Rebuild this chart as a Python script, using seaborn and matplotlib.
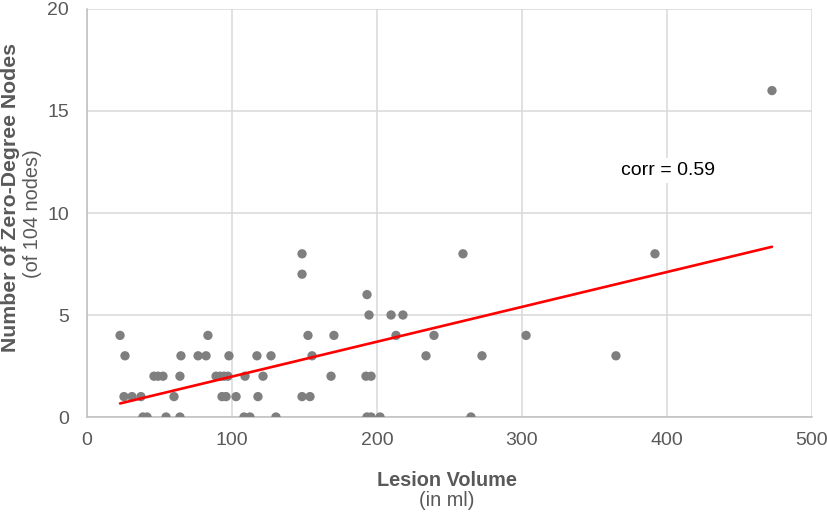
import numpy as np
import pandas as pd
import matplotlib
matplotlib.use("Agg")
import matplotlib.pyplot as plt
import seaborn as sns

# Data (lesion volume in ml, zero-degree node count)
vol_y0 = [38.6, 41.4, 54.5, 64.1, 108.3, 112.4, 130.3, 193.1, 195.9, 202.1, 264.8]
vol_y1 = [25.5, 31.0, 37.2, 60.0, 93.1, 95.9, 102.8, 117.9, 148.3, 153.8]
vol_y2 = [46.2, 49.0, 52.4, 64.1, 89.0, 91.7, 94.5, 97.2, 109.0, 121.4, 168.3, 192.4, 195.9]
vol_y3 = [26.2, 64.8, 76.6, 82.1, 97.9, 117.2, 126.9, 155.2, 233.8, 272.4, 364.8]
vol_y4 = [22.8, 83.4, 152.4, 170.3, 213.1, 239.3, 302.8]
vol_y5 = [194.5, 209.7, 217.9]
vol_y6 = [193.1]
vol_y7 = [148.3]
vol_y8 = [148.3, 259.3, 391.7]
vol_y16 = [472.4]

groups = {0: vol_y0, 1: vol_y1, 2: vol_y2, 3: vol_y3, 4: vol_y4, 5: vol_y5,
          6: vol_y6, 7: vol_y7, 8: vol_y8, 16: vol_y16}
volume = []
nodes = []
for k, v in groups.items():
    volume += v
    nodes += [k] * len(v)
df = pd.DataFrame({"volume": volume, "nodes": nodes})

x_ticks = [0, 100, 200, 300, 400, 500]
y_ticks = [0, 5, 10, 15, 20]
corr_label = "corr = 0.59"

sns.set_theme(style="white")
plt.rcParams["font.family"] = ["Liberation Sans", "DejaVu Sans"]

fig = plt.figure(figsize=(8.28, 5.14), dpi=100)
ax = fig.add_axes([87 / 828, 1 - 417 / 514, (812 - 87) / 828, (417 - 9) / 514])

sns.scatterplot(data=df, x="volume", y="nodes", ax=ax, color="#7f7f7f",
                s=45, edgecolor="none", zorder=3)
sns.regplot(data=df, x="volume", y="nodes", ax=ax, scatter=False, ci=None,
            truncate=True, line_kws={"color": "#ff0000", "lw": 1.9, "zorder": 4})

ax.set_xlim(0, 500)
ax.set_ylim(0, 20)
ax.set_xticks(x_ticks)
ax.set_yticks(y_ticks)
ax.grid(True, color="#d9d9d9", lw=1.1, zorder=0)
ax.set_axisbelow(True)
for s in ["top", "right"]:
    ax.spines[s].set_visible(False)
for s in ["left", "bottom"]:
    ax.spines[s].set_color("#bfbfbf")
    ax.spines[s].set_linewidth(1.1)

ax.tick_params(axis="both", labelsize=14, colors="#595959", length=0)
ax.tick_params(axis="y", pad=13)
ax.tick_params(axis="x", pad=11)

ax.set_xlabel("")
ax.set_ylabel("")
fig.text(447 / 828, 1 - 481 / 514, "Lesion Volume", ha="center", va="center",
         fontsize=14.3, fontweight="bold", color="#595959")
fig.text(447 / 828, 1 - 501 / 514, "(in ml)", ha="center", va="center",
         fontsize=14.3, color="#595959")
fig.text(11 / 828, 1 - 198 / 514, "Number of Zero-Degree Nodes", ha="center",
         va="center", rotation=90, fontsize=15.3, fontweight="bold", color="#595959")
fig.text(33 / 828, 1 - 214 / 514, "(of 104 nodes)", ha="center",
         va="center", rotation=90, fontsize=14.3, color="#595959")

ax.text(400.7, 12.1, corr_label, ha="center", va="center", fontsize=14,
        color="black", zorder=5,
        bbox=dict(facecolor="white", edgecolor="none", pad=3))

fig.savefig("out.png", dpi=100)
